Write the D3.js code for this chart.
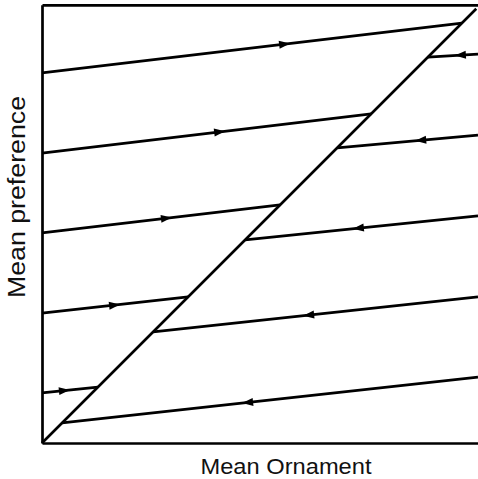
<!DOCTYPE html>
<html>
<head>
<meta charset="utf-8">
<script src="https://cdn.jsdelivr.net/npm/d3@7"></script>
<style>
  html, body { margin: 0; padding: 0; background: #fff; }
  svg { display: block; }
</style>
</head>
<body>
<svg id="chart" width="478" height="479"></svg>
<script>
// ---- Data ----
const xLabel = "Mean Ornament";
const yLabel = "Mean preference";
const diagonalEnd = 9.96;
// trajectories starting on the left axis (x = 0), moving right to the diagonal
const leftStartY = [1.15, 2.98, 4.82, 6.65, 8.49];
const leftEndX   = [1.28, 3.35, 5.46, 7.55, 9.63];
const leftArrowX = [0.64, 1.79, 2.98, 4.20, 5.69];
// trajectories starting on the right edge (x = 10), moving left to the diagonal
const rightStartY = [1.51, 3.35, 5.21, 7.06, 8.92];
const rightEndX   = [0.46, 2.55, 4.66, 6.77, 8.85];
const rightArrowX = [4.59, 5.99, 7.13, 8.56, 9.47];

// ---- Layout ----
const svg = d3.select("#chart");
const mLeft = 42, mRight = 478, mTop = 4.8, mBottom = 443;
const x = d3.scaleLinear().domain([0, 10]).range([mLeft, mRight]);
const y = d3.scaleLinear().domain([0, 10.05]).range([mBottom, mTop]);
const sw = 2.7;

// frame (left, top, bottom) via axes without ticks
svg.append("g").attr("transform", `translate(${mLeft},0)`)
  .call(d3.axisLeft(y).tickValues([]).tickSizeOuter(0));
svg.append("g").attr("transform", `translate(0,${mTop})`)
  .call(d3.axisTop(x).tickValues([]).tickSizeOuter(0));
svg.append("g").attr("transform", `translate(0,${mBottom})`)
  .call(d3.axisBottom(x).tickValues([]).tickSizeOuter(0));
svg.selectAll(".domain").attr("stroke", "#000").attr("stroke-width", sw);

const line = d3.line().x(d => x(d[0])).y(d => y(d[1]));
const g = svg.append("g").attr("fill", "none").attr("stroke", "#000")
  .attr("stroke-width", sw).attr("stroke-linecap", "butt");

// diagonal
g.append("path").attr("d", line([[0, 0], [diagonalEnd, diagonalEnd]]));

function drawTraj(p0, p1, ax) {
  g.append("path").attr("d", line([p0, p1]));
  const t = (ax - p0[0]) / (p1[0] - p0[0]);
  const ay = p0[1] + t * (p1[1] - p0[1]);
  const ang = Math.atan2(y(p1[1]) - y(p0[1]), x(p1[0]) - x(p0[0])) * 180 / Math.PI;
  svg.append("path")
    .attr("d", "M0,0 L-11,-4 L-11,4 Z")
    .attr("fill", "#000")
    .attr("transform", `translate(${x(ax)},${y(ay)}) rotate(${ang})`);
}

leftStartY.forEach((y0, i) => drawTraj([0, y0], [leftEndX[i], leftEndX[i]], leftArrowX[i]));
rightStartY.forEach((y0, i) => drawTraj([10, y0], [rightEndX[i], rightEndX[i]], rightArrowX[i]));

// labels
svg.append("text")
  .attr("x", 286).attr("y", 474)
  .attr("text-anchor", "middle")
  .attr("font-family", "Liberation Sans, Arial, sans-serif")
  .attr("font-size", 22)
  .attr("textLength", 171)
  .attr("lengthAdjust", "spacingAndGlyphs")
  .attr("fill", "#111")
  .text(xLabel);
svg.append("text")
  .attr("transform", "translate(25,197) rotate(-90)")
  .attr("text-anchor", "middle")
  .attr("font-family", "Liberation Sans, Arial, sans-serif")
  .attr("font-size", 23)
  .attr("textLength", 202)
  .attr("lengthAdjust", "spacingAndGlyphs")
  .attr("fill", "#111")
  .text(yLabel);
</script>
</body>
</html>
